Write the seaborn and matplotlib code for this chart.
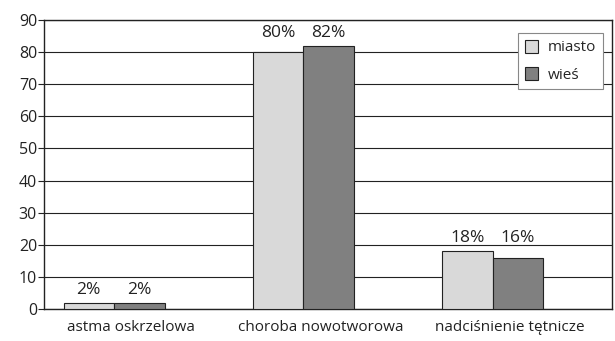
import matplotlib
matplotlib.use("Agg")
import matplotlib.pyplot as plt
import seaborn as sns
import pandas as pd

categories = ["astma oskrzelowa", "choroba nowotworowa", "nadciśnienie tętnicze"]
miasto = [2, 80, 18]
wies = [2, 82, 16]
series = ["miasto", "wieś"]
yticks = list(range(0, 91, 10))

df = pd.DataFrame({
    "cat": categories * 2,
    "val": miasto + wies,
    "ser": [series[0]] * 3 + [series[1]] * 3,
})

sns.set_theme(style="white")
plt.rcParams["font.family"] = ["Open Sans", "DejaVu Sans"]

fig = plt.figure(figsize=(6.15, 3.41), dpi=100)
ax = fig.add_axes([44 / 615, 1 - 309 / 341, (612 - 44) / 615, (309 - 20) / 341])

sns.barplot(data=df, x="cat", y="val", hue="ser", order=categories,
            palette=["#d9d9d9", "#808080"], width=0.534, edgecolor="#222222",
            linewidth=0.8, ax=ax, zorder=3, saturation=1)

# labels share a common baseline above the taller bar of each group
for cont, vals in zip(ax.containers, [miasto, wies]):
    for patch, v, a, b in zip(cont, vals, miasto, wies):
        ax.annotate(f"{v}%", (patch.get_x() + patch.get_width() / 2, max(a, b)),
                    xytext=(0, 3.5), textcoords="offset points",
                    ha="center", va="bottom", fontsize=12.5, color="#222222")

ax.set_xlim(-0.37, 2.63)
ax.set_ylim(0, 90)
ax.set_yticks(yticks)
ax.set_yticklabels([str(t) for t in yticks], fontsize=11.5, color="#222222")
ax.set_xticks([0.09, 1.09, 2.09])
ax.set_xticklabels(categories, fontsize=11, color="#222222")
ax.tick_params(axis="x", length=0, pad=8)
ax.tick_params(axis="y", length=4, width=0.8, color="#222222", left=True, pad=1)
ax.yaxis.grid(True, color="#222222", linewidth=0.8)
ax.set_axisbelow(True)
ax.set_xlabel("")
ax.set_ylabel("")
for s in ax.spines.values():
    s.set_visible(True)
    s.set_color("#222222")
    s.set_linewidth(1.0)

leg = ax.legend(loc="upper right", bbox_to_anchor=(0.984, 0.955), fontsize=11,
                frameon=True, fancybox=False, edgecolor="#888888",
                handlelength=0.9, handleheight=0.9, handletextpad=0.6,
                labelspacing=0.75, borderpad=0.45, borderaxespad=0)
leg.get_frame().set_linewidth(0.8)
leg.get_frame().set_facecolor("white")
leg.get_frame().set_alpha(1)

fig.savefig("out.png", dpi=100)
